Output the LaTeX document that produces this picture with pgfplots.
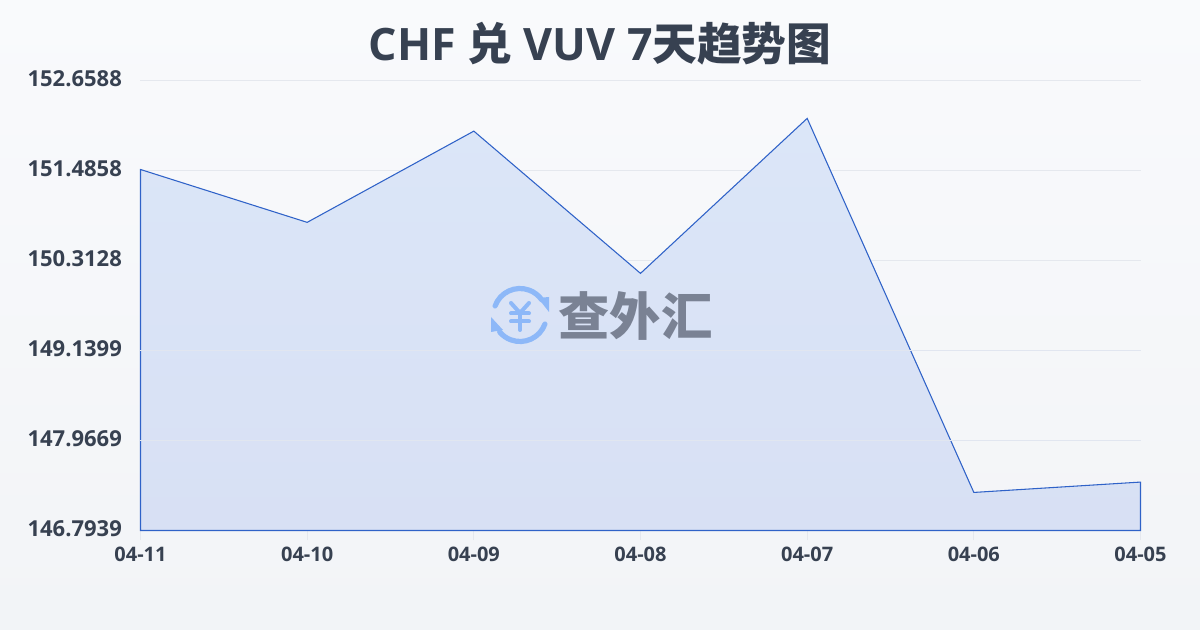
\documentclass[border=0pt]{standalone}
\usepackage{pgfplots}
\pgfplotsset{compat=1.18}
\usepackage{fontspec}
\setmainfont{Open Sans}
\newfontfamily\cjk{Noto Sans CJK SC}
\definecolor{ink}{HTML}{374151}
\definecolor{bgtop}{HTML}{F9FAFC}
\definecolor{bgbot}{HTML}{F2F4F7}
\definecolor{line}{HTML}{2F62C8}
\definecolor{filltop}{HTML}{DBE6F8}
\definecolor{fillbot}{HTML}{D8E0F4}
\definecolor{gridc}{HTML}{E5E8EE}
\definecolor{wmtext}{HTML}{7A8294}
\definecolor{wmicon}{HTML}{8DB8F8}
\begin{document}
\begin{tikzpicture}[x=0.75pt,y=-0.75pt]
\shade[top color=bgtop,bottom color=bgbot] (0,0) rectangle (1200,630);
\node[font=\bfseries\fontsize{33.5}{40}\selectfont,text=ink,anchor=center] at (600,44) {CHF {\cjk 兑} VUV 7{\cjk 天趋势图}};
\begin{axis}[
  at={(105.375pt,-397.875pt)},anchor=south west,
  scale only axis,width=750pt,height=337.5pt,
  xmin=0,xmax=6,ymin=146.7939,ymax=152.6588,
  axis line style={draw=none},
  xtick={0,1,2,3,4,5,6},
  xticklabels={04-11,04-10,04-09,04-08,04-07,04-06,04-05},
  ytick={146.7939,147.9669,149.1399,150.3128,151.4858,152.6588},
  yticklabels={146.7939,147.9669,149.1399,150.3128,151.4858,152.6588},
  /pgf/number format/assume math mode=true,
  ymajorgrids,
  grid style={gridc,line width=0.6pt},
  axis on top=false,
  xtick style={draw=gridc,line width=0.6pt},
  ytick style={draw=none},
  tick align=outside,
  xtick pos=bottom, ytick pos=left,
  major tick length=7.5pt,
  x tick label style={font=\bfseries\fontsize{15}{17}\selectfont,text=ink,yshift=-1pt},
  y tick label style={font=\bfseries\fontsize{16.5}{18}\selectfont,text=ink,xshift=-3pt,yshift=1.5pt},
  clip=false,
]
\addplot[draw=line,line width=0.8pt,top color=filltop,bottom color=fillbot,line join=miter] coordinates {
 (0,146.7939)(0,151.499)(1,150.810)(2,151.999)(3,150.145)(4,152.165)(5,147.290)(6,147.425)(6,146.7939)
} -- cycle;
\addplot[draw=gridc!70!fillbot,line width=0.6pt,forget plot] coordinates {(0,147.9669)(6,147.9669)};
\addplot[draw=gridc!70!fillbot,line width=0.6pt,forget plot] coordinates {(0,149.1399)(6,149.1399)};
\end{axis}
% watermark
\begin{scope}[wmicon,line width=3.9pt,line cap=round]
 \draw (520,315)++(200:26.5) arc[start angle=200,end angle=325,radius=26.5];
 \draw (520,315)++(20:26.5) arc[start angle=20,end angle=140,radius=26.5];
 \fill (538,298)--(549,297)--(549,312)--cycle;
 \fill (491,317)--(491,332)--(503,330)--cycle;
 \draw[line width=3pt] (511,303)--(520,313)--(529,303);
 \draw[line width=3pt] (520,313)--(520,330);
 \draw[line width=3pt] (511,313.5)--(529,313.5);
 \draw[line width=3pt] (511,321.5)--(529,321.5);
\end{scope}
\node[font=\cjk\bfseries\fontsize{38.5}{44}\selectfont,text=wmtext,anchor=center] at (635.5,316) {查外汇};
\end{tikzpicture}
\end{document}
